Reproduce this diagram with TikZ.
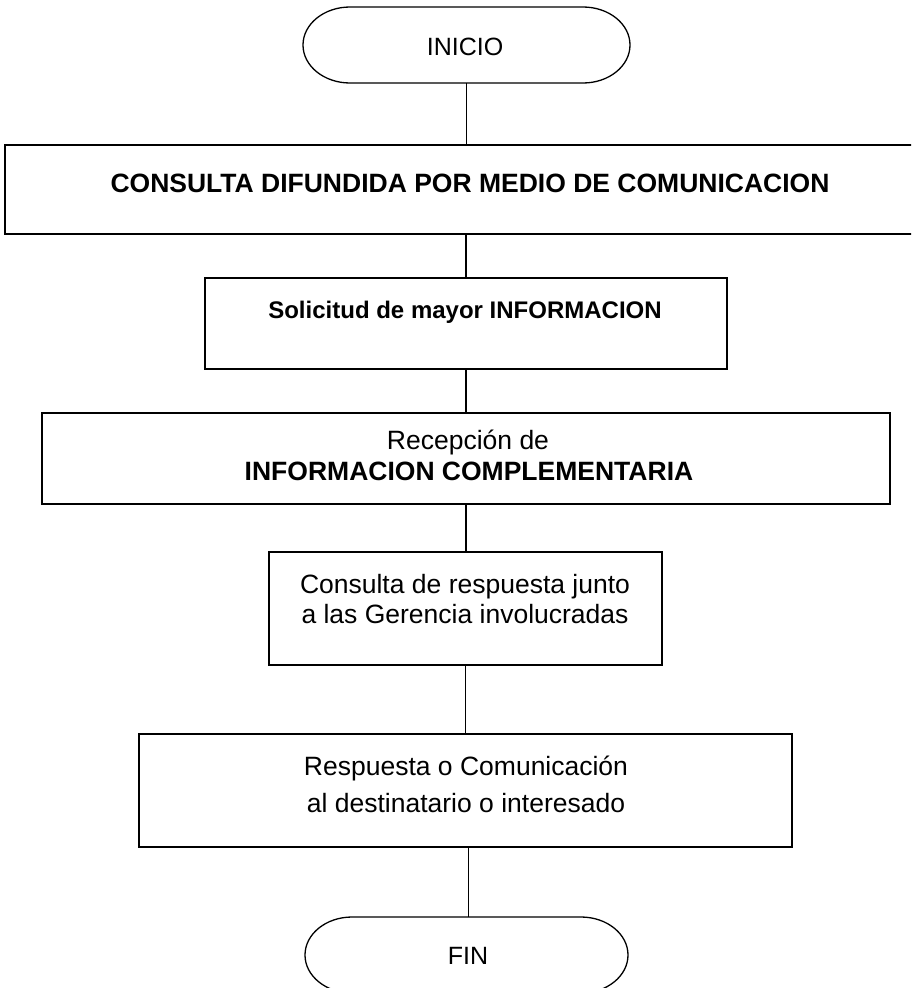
\documentclass[tikz,border=0pt]{standalone}
\usepackage{fontspec}
\setmainfont{Liberation Sans}
\begin{document}
\begin{tikzpicture}[x=1pt,y=-1pt,
  box/.style={draw=black,line width=2pt,inner sep=0pt,outer sep=0pt},
  term/.style={draw=none,inner sep=0pt,outer sep=0pt,minimum width=#1,minimum height=76pt},
  conn/.style={draw=black,line width=1.3pt},
  txt/.style={inner sep=0pt,anchor=base,font=\fontsize{26.5}{30}\selectfont},
  btxt/.style={inner sep=0pt,anchor=base,font=\fontsize{26.5}{30}\selectfont\bfseries},
]
\useasboundingbox (0,0) rectangle (911,988);
\begin{scope}
\clip (0,0) rectangle (911,988);
% terminals
\node[term=327pt] (ini) at (466.5,45) {};
\node[term=323pt] (fin) at (466.5,955) {};
\foreach \n in {ini,fin}{
  \draw[line width=1.3pt] ([xshift=47pt]\n.north west) arc[start angle=90,end angle=270,x radius=47pt,y radius=38pt]
     -- ([xshift=-47pt]\n.south east) arc[start angle=-90,end angle=90,x radius=47pt,y radius=38pt] -- cycle;
}
% boxes
\node[box,minimum width=922pt,minimum height=89pt] (b1) at (466,189.5) {};
\node[box,minimum width=522pt,minimum height=91pt] (b2) at (466,323.5) {};
\node[box,minimum width=848pt,minimum height=91pt] (b3) at (466,458.5) {};
\node[box,minimum width=393pt,minimum height=113pt] (b4) at (465.5,608.5) {};
\node[box,minimum width=653pt,minimum height=113pt] (b5) at (465.5,790.5) {};
% connectors
\draw[conn] (ini.south) -- (ini.south |- b1.north);
\draw[conn] (b1.south -| b2.north) -- (b2.north);
\draw[conn] (b2.south) -- (b3.north);
\draw[conn] (b3.south) -- (b3.south |- b4.north);
\draw[conn] (b4.south) -- (b5.north);
\draw[conn] ([xshift=3pt]b5.south) -- ([xshift=3pt]b5.south |- fin.north);
% texts
\node[txt,font=\fontsize{25}{30}\selectfont] (tini) at (465,55) {INICIO};
\node[btxt] (t1) at (470,192) {CONSULTA DIFUNDIDA POR MEDIO DE COMUNICACION};
\node[btxt,font=\fontsize{24}{28}\selectfont\bfseries] (t2) at (465,318) {Solicitud de mayor INFORMACION};
\node[txt] (t3a) at (468,449) {Recepción de};
\node[btxt] (t3b) at (469,480) {INFORMACION COMPLEMENTARIA};
\node[txt] (t4a) at (465,593) {Consulta de respuesta junto};
\node[txt] (t4b) at (465,623) {a las Gerencia involucradas};
\node[txt] (t5a) at (466,775) {Respuesta o Comunicación};
\node[txt] (t5b) at (466,812) {al destinatario o interesado};
\node[txt,font=\fontsize{25}{30}\selectfont] (tfin) at (468,964) {FIN};
\end{scope}
\end{tikzpicture}
\end{document}
